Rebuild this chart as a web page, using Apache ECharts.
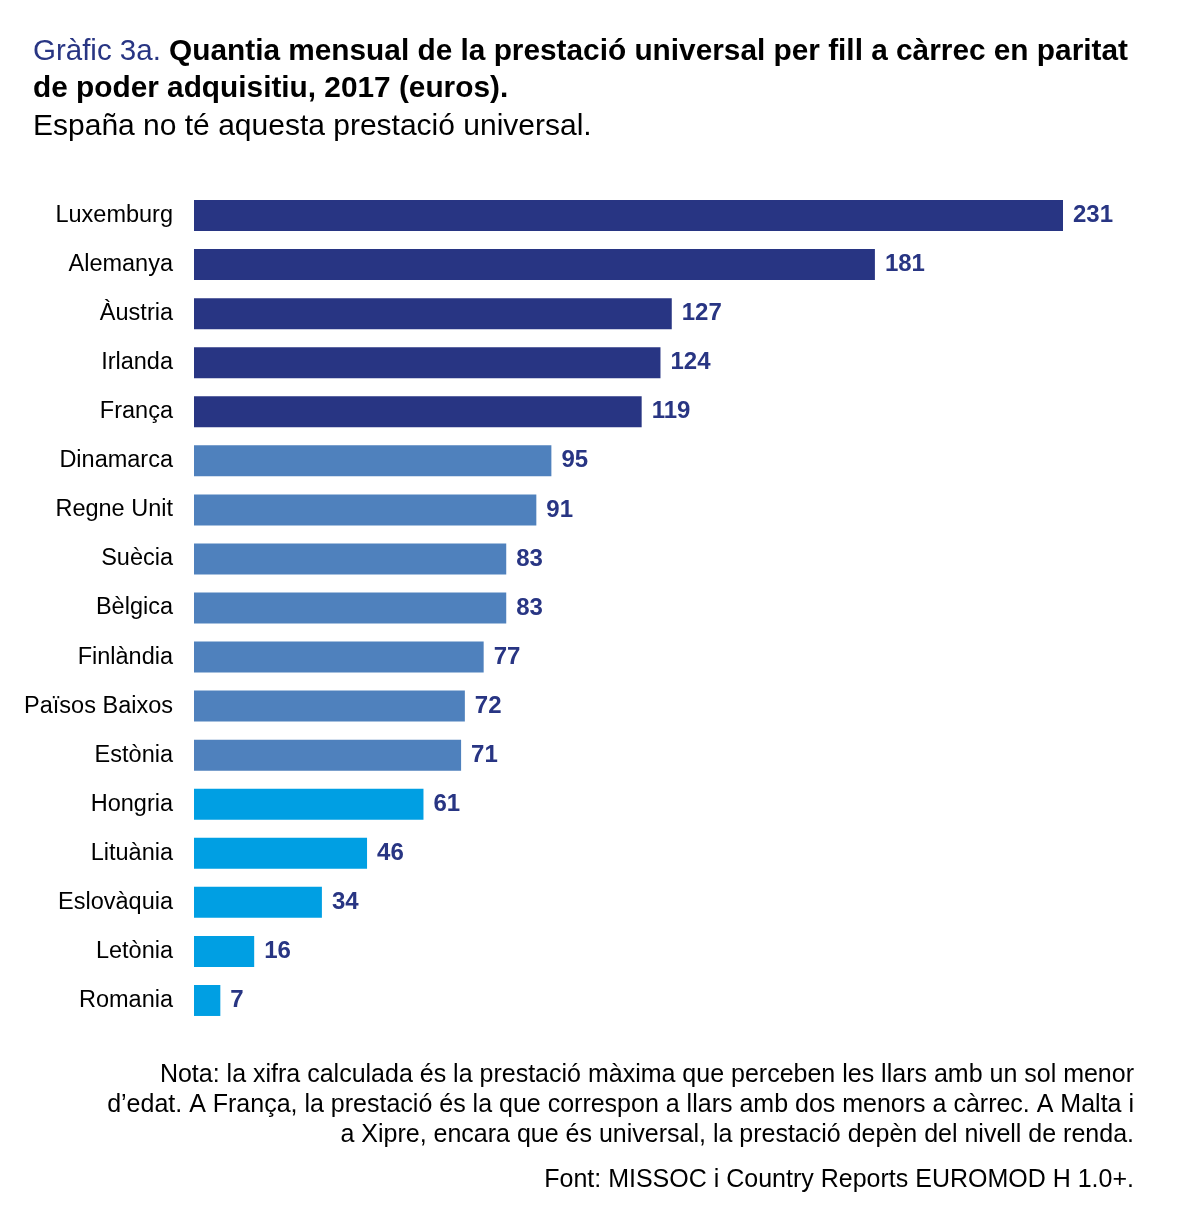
<!DOCTYPE html>
<html>
<head>
<meta charset="utf-8">
<script src="https://cdn.jsdelivr.net/npm/echarts@6/dist/echarts.min.js"></script>
<style>
  html, body { margin: 0; padding: 0; background: #fff; }
  #chart { width: 1200px; height: 1222px; }
</style>
</head>
<body>
<div id="chart"></div>
<script>
var countries = ['Luxemburg', 'Alemanya', 'Àustria', 'Irlanda', 'França', 'Dinamarca',
  'Regne Unit', 'Suècia', 'Bèlgica', 'Finlàndia', 'Països Baixos', 'Estònia',
  'Hongria', 'Lituània', 'Eslovàquia', 'Letònia', 'Romania'];
var values = [231, 181, 127, 124, 119, 95, 91, 83, 83, 77, 72, 71, 61, 46, 34, 16, 7];
var tiers = [0, 0, 0, 0, 0, 1, 1, 1, 1, 1, 1, 1, 2, 2, 2, 2, 2];

var tierColors = ['#283583', '#4f81bd', '#009fe3'];
var navy = '#283583';
var fontFam = '"Liberation Sans", Arial, sans-serif';

var noteLines = [
  'Nota: la xifra calculada és la prestació màxima que perceben les llars amb un sol menor',
  'd’edat. A França, la prestació és la que correspon a llars amb dos menors a càrrec. A Malta i',
  'a Xipre, encara que és universal, la prestació depèn del nivell de renda.',
  'Font: MISSOC i Country Reports EUROMOD H 1.0+.'
];
var noteTops = [1063, 1093, 1123, 1168];

var chart = echarts.init(document.getElementById('chart'));
chart.setOption({
  backgroundColor: '#fff',
  animation: false,
  title: {
    left: 28,
    top: 28,
    text: '{a|Gràfic 3a. }{b|Quantia mensual de la prestació universal per fill a càrrec en paritat}\n{b|de poder adquisitiu, 2017 (euros).}\n{c|España no té aquesta prestació universal.}',
    textStyle: {
      rich: {
        a: { fontSize: 29.5, color: navy, fontWeight: 'normal', fontFamily: fontFam, lineHeight: 37.5 },
        b: { fontSize: 29.8, color: '#000', fontWeight: 'bold', fontFamily: fontFam, lineHeight: 37.5 },
        c: { fontSize: 30, color: '#000', fontWeight: 'normal', fontFamily: fontFam, lineHeight: 37.5 }
      }
    }
  },
  graphic: noteLines.map(function (t, i) {
    return {
      type: 'text',
      right: 66,
      top: noteTops[i],
      style: { text: t, fontSize: 25, fill: '#000', fontFamily: fontFam }
    };
  }),
  grid: { left: 194, top: 191, width: 869, height: 834 },
  xAxis: {
    type: 'value', min: 0, max: 231, show: false
  },
  yAxis: {
    type: 'category',
    inverse: true,
    data: countries,
    axisLine: { show: false },
    axisTick: { show: false },
    axisLabel: { margin: 21, fontSize: 23.5, color: '#000', fontFamily: fontFam, padding: [0, 0, 10, 0] }
  },
  series: [{
    type: 'bar',
    barWidth: 31,
    data: values.map(function (v, i) {
      return { value: v, itemStyle: { color: tierColors[tiers[i]] } };
    }),
    label: {
      show: true,
      position: 'right',
      distance: 10,
      fontSize: 24,
      fontWeight: 'bold',
      color: navy,
      fontFamily: fontFam
    }
  }]
});
</script>
</body>
</html>
